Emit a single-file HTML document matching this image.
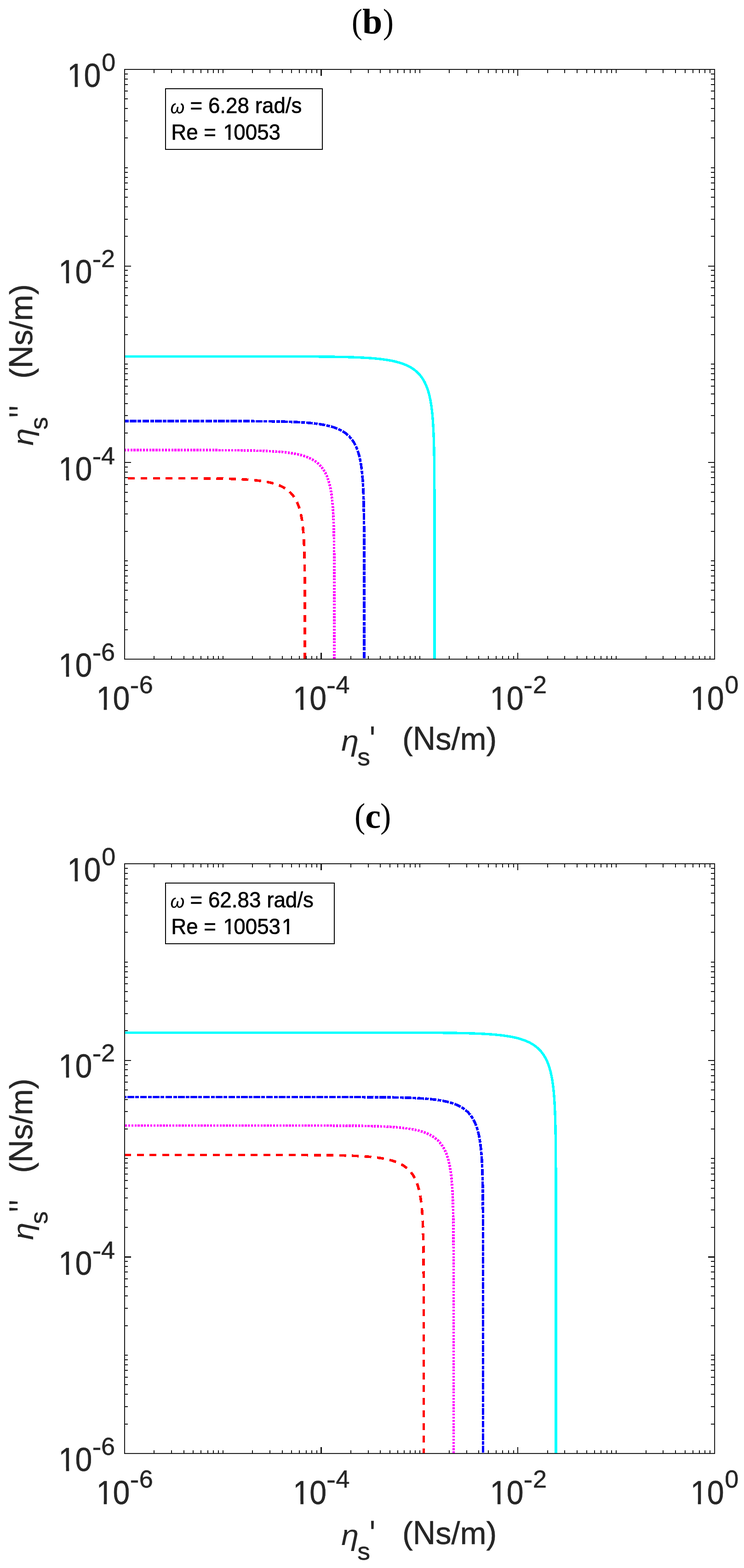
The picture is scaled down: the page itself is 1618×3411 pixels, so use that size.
<!DOCTYPE html>
<html lang="en"><head><meta charset="utf-8"><title>Figure panels (b) and (c)</title>
<style>html,body{margin:0;padding:0;background:#fff}svg{display:block}text{white-space:pre}.t{font-family:"Liberation Sans",sans-serif;fill:#262626;stroke:#262626;stroke-width:.6px;stroke-linejoin:round}.a{font-family:"Liberation Sans",sans-serif;fill:#000;stroke:#000;stroke-width:.7px;stroke-linejoin:round}.h{font-family:"Liberation Serif",serif;fill:#000}.i{font-style:italic;stroke-width:.15px}.c{fill:none;shape-rendering:crispEdges}.m{fill:#fff}</style></head><body>
<svg width="1618" height="3411" viewBox="0 0 1618 3411">
<rect width="1618" height="3411" fill="#fff"/>
<g>
<text class="h" font-size="77"><tspan x="764.82" y="72.4" textLength="23.33" lengthAdjust="spacingAndGlyphs">(</tspan><tspan x="787.89" y="73.3" font-weight="bold" font-size="78">b</tspan><tspan x="832.76" y="72.4" textLength="23.33" lengthAdjust="spacingAndGlyphs">)</tspan></text>
<path class="c" d="M272 775.4L278 775.4L284 775.4L290 775.4L296 775.4L302 775.4L308 775.4L314 775.4L320 775.4L326 775.4L332 775.4L338 775.4L344 775.4L350 775.4L356 775.4L362 775.4L368 775.4L374 775.4L380 775.4L386 775.4L392 775.4L398 775.4L404 775.4L410 775.4L416 775.4L422 775.4L428 775.4L434 775.4L440 775.4L446 775.4L452 775.4L458 775.4L464 775.4L470 775.41L476 775.41L482 775.41L488 775.41L494 775.41L500 775.41L506 775.41L512 775.41L518 775.41L524 775.42L530 775.42L536 775.42L542 775.42L548 775.42L554 775.43L560 775.43L566 775.43L572 775.44L578 775.44L584 775.45L590 775.46L596 775.46L602 775.47L608 775.48L614 775.49L620 775.5L626 775.51L632 775.52L638 775.54L644 775.56L650 775.58L656 775.6L662 775.62L668 775.65L674 775.68L680 775.71L686 775.75L692 775.8L698 775.85L704 775.9L710 775.96L716 776.03L722 776.11L728 776.2L734 776.3L740 776.41L746 776.53L752 776.67L758 776.83L764 777.01L770 777.21L776 777.44L782 777.69L788 777.98L794 778.31L800 778.67L801 778.74L802 778.81L803 778.87L804 778.94L805 779.02L806 779.09L807 779.16L808 779.24L809 779.32L810 779.4L811 779.48L812 779.56L813 779.64L814 779.73L815 779.82L816 779.91L817 780L818 780.09L819 780.19L820 780.29L821 780.39L822 780.49L823 780.59L824 780.7L825 780.81L826 780.92L827 781.03L828 781.15L829 781.27L830 781.39L831 781.51L832 781.64L833 781.77L834 781.9L835 782.03L836 782.17L837 782.31L838 782.46L839 782.6L840 782.75L841 782.91L842 783.07L843 783.23L844 783.39L845 783.56L846 783.73L847 783.91L848 784.09L849 784.27L850 784.46L851 784.65L852 784.85L853 785.05L854 785.26L855 785.47L856 785.69L857 785.91L858 786.14L859 786.37L860 786.61L861 786.85L862 787.1L863 787.36L864 787.62L865 787.89L866 788.17L867 788.45L868 788.74L869 789.03L870 789.34L871 789.65L872 789.97L873 790.3L874 790.64L875 790.98L876 791.34L877 791.7L878 792.08L879 792.46L880 792.85L881 793.26L882 793.68L883 794.1L884 794.55L885 795L886 795.46L887 795.94L888 796.43L889 796.94L890 797.46L891 798L892 798.56L893 799.13L894 799.72L895 800.32L896 800.95L897 801.6L898 802.26L899 802.95L900 803.67L901 804.4L902 805.16L903 805.95L904 806.77L905 807.61L906 808.49L907 809.4L908 810.34L909 811.32L910 812.34L910.95 813.34L911.86 814.34L912.73 815.34L913.58 816.34L914.4 817.34L915.19 818.34L915.95 819.34L916.69 820.34L917.41 821.34L918.1 822.34L918.76 823.34L919.41 824.34L920.04 825.34L920.65 826.34L921.24 827.34L921.81 828.34L922.37 829.34L922.9 830.34L923.43 831.34L923.94 832.34L924.43 833.34L924.91 834.34L925.38 835.34L925.83 836.34L926.27 837.34L926.7 838.34L927.12 839.34L927.52 840.34L927.92 841.34L928.3 842.34L928.68 843.34L929.04 844.34L929.4 845.34L929.74 846.34L930.08 847.34L930.41 848.34L930.73 849.34L931.04 850.34L931.35 851.34L931.65 852.34L931.94 853.34L932.22 854.34L932.49 855.34L932.76 856.34L933.03 857.34L933.28 858.34L933.53 859.34L933.78 860.34L934.02 861.34L934.25 862.34L934.48 863.34L934.7 864.34L934.92 865.34L935.13 866.34L935.34 867.34L935.54 868.34L935.74 869.34L935.93 870.34L936.12 871.34L936.3 872.34L936.48 873.34L936.66 874.34L936.83 875.34L937 876.34L937.17 877.34L937.33 878.34L937.48 879.34L937.64 880.34L937.79 881.34L937.94 882.34L938.08 883.34L938.22 884.34L938.36 885.34L938.5 886.34L938.63 887.34L938.76 888.34L938.88 889.34L939.01 890.34L939.13 891.34L939.25 892.34L939.36 893.34L939.48 894.34L939.59 895.34L939.7 896.34L939.8 897.34L939.91 898.34L940.01 899.34L940.11 900.34L940.21 901.34L940.3 902.34L940.4 903.34L940.49 904.34L940.58 905.34L940.67 906.34L940.75 907.34L940.84 908.34L940.92 909.34L941 910.34L941.08 911.34L941.16 912.34L941.23 913.34L941.31 914.34L941.38 915.34L941.45 916.34L941.52 917.34L941.59 918.34L941.66 919.34L941.72 920.34L941.79 921.34L941.85 922.34L941.91 923.34L941.97 924.34L942.03 925.34L942.09 926.34L942.42 932.34L942.71 938.34L942.96 944.34L943.19 950.34L943.39 956.34L943.57 962.34L943.73 968.34L943.87 974.34L943.99 980.34L944.1 986.34L944.2 992.34L944.29 998.34L944.37 1004.34L944.44 1010.34L944.5 1016.34L944.55 1022.34L944.6 1028.34L944.65 1034.34L944.68 1040.34L944.72 1046.34L944.75 1052.34L944.78 1058.34L944.8 1064.34L944.82 1070.34L944.84 1076.34L944.86 1082.34L944.88 1088.34L944.89 1094.34L944.9 1100.34L944.91 1106.34L944.92 1112.34L944.93 1118.34L944.94 1124.34L944.94 1130.34L944.95 1136.34L944.96 1142.34L944.96 1148.34L944.97 1154.34L944.97 1160.34L944.97 1166.34L944.98 1172.34L944.98 1178.34L944.98 1184.34L944.98 1190.34L944.98 1196.34L944.99 1202.34L944.99 1208.34L944.99 1214.34L944.99 1220.34L944.99 1226.34L944.99 1232.34L944.99 1238.34L944.99 1244.34L944.99 1250.34L945 1256.34L945 1262.34L945 1268.34L945 1274.34L945 1280.34L945 1286.34L945 1292.34L945 1298.34L945 1304.34L945 1310.34L945 1316.34L945 1322.34L945 1328.34L945 1334.34L945 1340.34L945 1346.34L945 1352.34L945 1358.34L945 1364.34L945 1370.34L945 1376.34L945 1382.34L945 1388.34L945 1394.34L945 1400.34L945 1406.34L945 1412.34L945 1418.34L945 1424.34L945 1430.34L945 1432.9" stroke="#00ffff" stroke-width="5.4"/>
<path class="c" d="M272 916L278 916L284 916L290 916L296 916L302 916L308 916L314 916L320 916L326 916L332 916L338 916L344 916L350 916L356 916.01L362 916.01L368 916.01L374 916.01L380 916.01L386 916.01L392 916.01L398 916.01L404 916.01L410 916.02L416 916.02L422 916.02L428 916.02L434 916.03L440 916.03L446 916.03L452 916.04L458 916.04L464 916.05L470 916.06L476 916.06L482 916.07L488 916.08L494 916.09L500 916.1L506 916.12L512 916.13L518 916.15L524 916.17L530 916.19L536 916.22L542 916.25L548 916.28L554 916.32L560 916.37L566 916.41L572 916.47L578 916.53L584 916.61L590 916.69L596 916.78L602 916.89L608 917.01L614 917.15L620 917.3L626 917.48L632 917.68L638 917.91L644 918.17L645 918.22L646 918.27L647 918.32L648 918.37L649 918.42L650 918.47L651 918.53L652 918.58L653 918.64L654 918.7L655 918.76L656 918.82L657 918.88L658 918.94L659 919L660 919.07L661 919.14L662 919.21L663 919.28L664 919.35L665 919.42L666 919.5L667 919.57L668 919.65L669 919.73L670 919.82L671 919.9L672 919.99L673 920.08L674 920.17L675 920.26L676 920.35L677 920.45L678 920.55L679 920.65L680 920.75L681 920.86L682 920.97L683 921.08L684 921.19L685 921.31L686 921.43L687 921.55L688 921.68L689 921.81L690 921.94L691 922.07L692 922.21L693 922.35L694 922.49L695 922.64L696 922.79L697 922.95L698 923.11L699 923.27L700 923.44L701 923.61L702 923.78L703 923.96L704 924.15L705 924.34L706 924.53L707 924.73L708 924.93L709 925.14L710 925.36L711 925.58L712 925.8L713 926.03L714 926.27L715 926.52L716 926.77L717 927.02L718 927.29L719 927.56L720 927.84L721 928.12L722 928.42L723 928.72L724 929.03L725 929.35L726 929.67L727 930.01L728 930.36L729 930.72L730 931.08L731 931.46L732 931.85L733 932.25L734 932.66L735 933.09L736 933.53L737 933.98L738 934.44L739 934.93L740 935.42L741 935.93L742 936.46L743 937.01L744 937.57L745 938.15L746 938.75L747 939.38L748 940.02L749 940.69L750 941.38L751 942.1L752 942.84L753 943.61L754 944.41L755 945.24L756 946.11L757 947.01L758 947.95L759 948.92L760 949.94L760.94 950.94L761.85 951.94L762.72 952.94L763.56 953.94L764.36 954.94L765.14 955.94L765.88 956.94L766.61 957.94L767.3 958.94L767.97 959.94L768.62 960.94L769.25 961.94L769.85 962.94L770.44 963.94L771.01 964.94L771.55 965.94L772.08 966.94L772.6 967.94L773.1 968.94L773.58 969.94L774.05 970.94L774.5 971.94L774.94 972.94L775.37 973.94L775.78 974.94L776.19 975.94L776.58 976.94L776.96 977.94L777.33 978.94L777.69 979.94L778.03 980.94L778.37 981.94L778.7 982.94L779.02 983.94L779.33 984.94L779.64 985.94L779.93 986.94L780.22 987.94L780.5 988.94L780.77 989.94L781.04 990.94L781.29 991.94L781.55 992.94L781.79 993.94L782.03 994.94L782.26 995.94L782.49 996.94L782.71 997.94L782.92 998.94L783.13 999.94L783.34 1000.94L783.54 1001.94L783.73 1002.94L783.92 1003.94L784.11 1004.94L784.29 1005.94L784.46 1006.94L784.64 1007.94L784.8 1008.94L784.97 1009.94L785.13 1010.94L785.28 1011.94L785.43 1012.94L785.58 1013.94L785.73 1014.94L785.87 1015.94L786.01 1016.94L786.14 1017.94L786.27 1018.94L786.4 1019.94L786.53 1020.94L786.65 1021.94L786.77 1022.94L786.89 1023.94L787 1024.94L787.11 1025.94L787.22 1026.94L787.33 1027.94L787.43 1028.94L787.54 1029.94L787.63 1030.94L787.73 1031.94L787.83 1032.94L787.92 1033.94L788.01 1034.94L788.1 1035.94L788.19 1036.94L788.27 1037.94L788.35 1038.94L788.43 1039.94L788.51 1040.94L788.59 1041.94L788.67 1042.94L788.74 1043.94L788.81 1044.94L788.88 1045.94L788.95 1046.94L789.02 1047.94L789.09 1048.94L789.15 1049.94L789.21 1050.94L789.28 1051.94L789.34 1052.94L789.4 1053.94L789.45 1054.94L789.51 1055.94L789.56 1056.94L789.62 1057.94L789.67 1058.94L789.72 1059.94L789.77 1060.94L789.82 1061.94L789.87 1062.94L789.92 1063.94L789.97 1064.94L790.01 1065.94L790.06 1066.94L790.3 1072.94L790.52 1078.94L790.71 1084.94L790.88 1090.94L791.02 1096.94L791.15 1102.94L791.26 1108.94L791.36 1114.94L791.45 1120.94L791.53 1126.94L791.6 1132.94L791.66 1138.94L791.71 1144.94L791.76 1150.94L791.8 1156.94L791.83 1162.94L791.86 1168.94L791.89 1174.94L791.92 1180.94L791.94 1186.94L791.96 1192.94L791.97 1198.94L791.99 1204.94L792 1210.94L792.01 1216.94L792.02 1222.94L792.03 1228.94L792.04 1234.94L792.05 1240.94L792.05 1246.94L792.06 1252.94L792.06 1258.94L792.07 1264.94L792.07 1270.94L792.08 1276.94L792.08 1282.94L792.08 1288.94L792.08 1294.94L792.09 1300.94L792.09 1306.94L792.09 1312.94L792.09 1318.94L792.09 1324.94L792.09 1330.94L792.09 1336.94L792.09 1342.94L792.09 1348.94L792.1 1354.94L792.1 1360.94L792.1 1366.94L792.1 1372.94L792.1 1378.94L792.1 1384.94L792.1 1390.94L792.1 1396.94L792.1 1402.94L792.1 1408.94L792.1 1414.94L792.1 1420.94L792.1 1426.94L792.1 1432.9" stroke="#0000ff" stroke-width="5.6" stroke-dasharray="14.6 2.4 8 2.4" stroke-dashoffset="17.2"/>
<path class="c" d="M272 979.1L278 979.1L284 979.1L290 979.1L296 979.1L302 979.1L308 979.11L314 979.11L320 979.11L326 979.11L332 979.11L338 979.11L344 979.11L350 979.11L356 979.12L362 979.12L368 979.12L374 979.12L380 979.13L386 979.13L392 979.13L398 979.14L404 979.14L410 979.15L416 979.16L422 979.17L428 979.17L434 979.18L440 979.2L446 979.21L452 979.22L458 979.24L464 979.26L470 979.28L476 979.31L482 979.34L488 979.37L494 979.41L500 979.45L506 979.5L512 979.55L518 979.62L524 979.69L530 979.77L536 979.86L542 979.97L548 980.09L554 980.23L560 980.39L566 980.57L572 980.78L578 981.01L579 981.05L580 981.1L581 981.14L582 981.19L583 981.23L584 981.28L585 981.33L586 981.38L587 981.43L588 981.48L589 981.54L590 981.59L591 981.65L592 981.7L593 981.76L594 981.82L595 981.88L596 981.94L597 982.01L598 982.07L599 982.14L600 982.21L601 982.28L602 982.35L603 982.42L604 982.5L605 982.58L606 982.65L607 982.73L608 982.82L609 982.9L610 982.99L611 983.08L612 983.17L613 983.26L614 983.35L615 983.45L616 983.55L617 983.65L618 983.76L619 983.86L620 983.97L621 984.08L622 984.2L623 984.32L624 984.44L625 984.56L626 984.69L627 984.82L628 984.95L629 985.08L630 985.22L631 985.37L632 985.51L633 985.66L634 985.82L635 985.97L636 986.14L637 986.3L638 986.47L639 986.65L640 986.82L641 987.01L642 987.2L643 987.39L644 987.59L645 987.79L646 988L647 988.21L648 988.43L649 988.66L650 988.89L651 989.13L652 989.37L653 989.62L654 989.88L655 990.14L656 990.42L657 990.7L658 990.98L659 991.28L660 991.58L661 991.9L662 992.22L663 992.55L664 992.89L665 993.24L666 993.6L667 993.97L668 994.36L669 994.75L670 995.16L671 995.58L672 996.01L673 996.46L674 996.92L675 997.39L676 997.88L677 998.39L678 998.91L679 999.46L680 1000.01L681 1000.59L682 1001.19L683 1001.81L684 1002.45L685 1003.12L686 1003.81L687 1004.53L688 1005.27L689 1006.04L690 1006.84L691 1007.67L692 1008.54L693 1009.45L694 1010.39L695 1011.37L696 1012.4L696.93 1013.4L697.83 1014.4L698.69 1015.4L699.52 1016.4L700.31 1017.4L701.08 1018.4L701.82 1019.4L702.53 1020.4L703.21 1021.4L703.87 1022.4L704.51 1023.4L705.13 1024.4L705.72 1025.4L706.3 1026.4L706.85 1027.4L707.39 1028.4L707.91 1029.4L708.41 1030.4L708.9 1031.4L709.37 1032.4L709.83 1033.4L710.28 1034.4L710.71 1035.4L711.12 1036.4L711.53 1037.4L711.92 1038.4L712.3 1039.4L712.67 1040.4L713.03 1041.4L713.38 1042.4L713.72 1043.4L714.05 1044.4L714.37 1045.4L714.68 1046.4L714.98 1047.4L715.27 1048.4L715.56 1049.4L715.84 1050.4L716.11 1051.4L716.37 1052.4L716.63 1053.4L716.88 1054.4L717.12 1055.4L717.36 1056.4L717.59 1057.4L717.81 1058.4L718.03 1059.4L718.25 1060.4L718.45 1061.4L718.65 1062.4L718.85 1063.4L719.04 1064.4L719.23 1065.4L719.41 1066.4L719.59 1067.4L719.76 1068.4L719.93 1069.4L720.1 1070.4L720.26 1071.4L720.42 1072.4L720.57 1073.4L720.72 1074.4L720.86 1075.4L721.01 1076.4L721.14 1077.4L721.28 1078.4L721.41 1079.4L721.54 1080.4L721.67 1081.4L721.79 1082.4L721.91 1083.4L722.02 1084.4L722.14 1085.4L722.25 1086.4L722.36 1087.4L722.47 1088.4L722.57 1089.4L722.67 1090.4L722.77 1091.4L722.87 1092.4L722.96 1093.4L723.05 1094.4L723.14 1095.4L723.23 1096.4L723.32 1097.4L723.4 1098.4L723.48 1099.4L723.56 1100.4L723.64 1101.4L723.72 1102.4L723.79 1103.4L723.86 1104.4L723.94 1105.4L724.01 1106.4L724.07 1107.4L724.14 1108.4L724.21 1109.4L724.27 1110.4L724.33 1111.4L724.39 1112.4L724.45 1113.4L724.51 1114.4L724.57 1115.4L724.62 1116.4L724.68 1117.4L724.73 1118.4L724.78 1119.4L724.83 1120.4L724.88 1121.4L724.93 1122.4L724.98 1123.4L725.02 1124.4L725.07 1125.4L725.11 1126.4L725.16 1127.4L725.2 1128.4L725.24 1129.4L725.47 1135.4L725.67 1141.4L725.85 1147.4L726 1153.4L726.13 1159.4L726.25 1165.4L726.36 1171.4L726.45 1177.4L726.53 1183.4L726.6 1189.4L726.66 1195.4L726.71 1201.4L726.76 1207.4L726.8 1213.4L726.84 1219.4L726.87 1225.4L726.9 1231.4L726.92 1237.4L726.94 1243.4L726.96 1249.4L726.98 1255.4L726.99 1261.4L727.01 1267.4L727.02 1273.4L727.03 1279.4L727.04 1285.4L727.04 1291.4L727.05 1297.4L727.06 1303.4L727.06 1309.4L727.07 1315.4L727.07 1321.4L727.07 1327.4L727.08 1333.4L727.08 1339.4L727.08 1345.4L727.08 1351.4L727.09 1357.4L727.09 1363.4L727.09 1369.4L727.09 1375.4L727.09 1381.4L727.09 1387.4L727.09 1393.4L727.09 1399.4L727.1 1405.4L727.1 1411.4L727.1 1417.4L727.1 1423.4L727.1 1429.4L727.1 1432.9" stroke="#ff00ff" stroke-width="5.6" stroke-dasharray="4.3 2.55" stroke-dashoffset="2.2"/>
<path class="c" d="M272 1040.41L278 1040.41L284 1040.41L290 1040.41L296 1040.41L302 1040.42L308 1040.42L314 1040.42L320 1040.42L326 1040.43L332 1040.43L338 1040.43L344 1040.44L350 1040.45L356 1040.45L362 1040.46L368 1040.47L374 1040.48L380 1040.49L386 1040.5L392 1040.51L398 1040.53L404 1040.55L410 1040.57L416 1040.59L422 1040.62L428 1040.65L434 1040.69L440 1040.73L446 1040.78L452 1040.83L458 1040.89L464 1040.96L470 1041.04L476 1041.13L482 1041.24L488 1041.36L494 1041.49L500 1041.65L506 1041.83L512 1042.04L518 1042.28L519 1042.32L520 1042.36L521 1042.41L522 1042.45L523 1042.5L524 1042.55L525 1042.6L526 1042.65L527 1042.7L528 1042.75L529 1042.8L530 1042.86L531 1042.92L532 1042.97L533 1043.03L534 1043.09L535 1043.16L536 1043.22L537 1043.28L538 1043.35L539 1043.42L540 1043.49L541 1043.56L542 1043.63L543 1043.71L544 1043.78L545 1043.86L546 1043.94L547 1044.03L548 1044.11L549 1044.2L550 1044.29L551 1044.38L552 1044.47L553 1044.56L554 1044.66L555 1044.76L556 1044.86L557 1044.97L558 1045.08L559 1045.19L560 1045.3L561 1045.41L562 1045.53L563 1045.65L564 1045.78L565 1045.91L566 1046.04L567 1046.17L568 1046.31L569 1046.45L570 1046.59L571 1046.74L572 1046.89L573 1047.05L574 1047.21L575 1047.38L576 1047.54L577 1047.72L578 1047.89L579 1048.08L580 1048.26L581 1048.46L582 1048.65L583 1048.86L584 1049.06L585 1049.28L586 1049.5L587 1049.72L588 1049.95L589 1050.19L590 1050.44L591 1050.69L592 1050.95L593 1051.21L594 1051.49L595 1051.77L596 1052.06L597 1052.35L598 1052.66L599 1052.98L600 1053.3L601 1053.63L602 1053.98L603 1054.33L604 1054.7L605 1055.08L606 1055.46L607 1055.87L608 1056.28L609 1056.71L610 1057.15L611 1057.6L612 1058.07L613 1058.55L614 1059.06L615 1059.57L616 1060.11L617 1060.66L618 1061.24L619 1061.83L620 1062.45L621 1063.09L622 1063.75L623 1064.44L624 1065.15L625 1065.89L626 1066.66L627 1067.46L628 1068.29L629 1069.16L630 1070.07L631 1071.01L632 1072L633 1073.03L633.93 1074.03L634.82 1075.03L635.67 1076.03L636.49 1077.03L637.28 1078.03L638.04 1079.03L638.76 1080.03L639.47 1081.03L640.14 1082.03L640.79 1083.03L641.42 1084.03L642.03 1085.03L642.61 1086.03L643.18 1087.03L643.73 1088.03L644.25 1089.03L644.76 1090.03L645.26 1091.03L645.74 1092.03L646.2 1093.03L646.65 1094.03L647.08 1095.03L647.5 1096.03L647.91 1097.03L648.31 1098.03L648.69 1099.03L649.06 1100.03L649.42 1101.03L649.77 1102.03L650.11 1103.03L650.44 1104.03L650.76 1105.03L651.07 1106.03L651.38 1107.03L651.67 1108.03L651.96 1109.03L652.23 1110.03L652.5 1111.03L652.77 1112.03L653.02 1113.03L653.27 1114.03L653.51 1115.03L653.75 1116.03L653.98 1117.03L654.2 1118.03L654.42 1119.03L654.63 1120.03L654.83 1121.03L655.03 1122.03L655.23 1123.03L655.42 1124.03L655.6 1125.03L655.78 1126.03L655.96 1127.03L656.13 1128.03L656.3 1129.03L656.46 1130.03L656.62 1131.03L656.77 1132.03L656.92 1133.03L657.07 1134.03L657.21 1135.03L657.35 1136.03L657.49 1137.03L657.62 1138.03L657.75 1139.03L657.88 1140.03L658 1141.03L658.12 1142.03L658.24 1143.03L658.35 1144.03L658.46 1145.03L658.57 1146.03L658.68 1147.03L658.78 1148.03L658.88 1149.03L658.98 1150.03L659.08 1151.03L659.17 1152.03L659.26 1153.03L659.35 1154.03L659.44 1155.03L659.53 1156.03L659.61 1157.03L659.69 1158.03L659.77 1159.03L659.85 1160.03L659.93 1161.03L660 1162.03L660.07 1163.03L660.14 1164.03L660.21 1165.03L660.28 1166.03L660.34 1167.03L660.41 1168.03L660.47 1169.03L660.53 1170.03L660.59 1171.03L660.65 1172.03L660.71 1173.03L660.76 1174.03L660.82 1175.03L660.87 1176.03L660.92 1177.03L660.98 1178.03L661.03 1179.03L661.07 1180.03L661.12 1181.03L661.17 1182.03L661.21 1183.03L661.26 1184.03L661.3 1185.03L661.34 1186.03L661.38 1187.03L661.43 1188.03L661.46 1189.03L661.5 1190.03L661.54 1191.03L661.75 1197.03L661.93 1203.03L662.09 1209.03L662.23 1215.03L662.35 1221.03L662.46 1227.03L662.55 1233.03L662.63 1239.03L662.7 1245.03L662.76 1251.03L662.82 1257.03L662.87 1263.03L662.91 1269.03L662.94 1275.03L662.98 1281.03L663 1287.03L663.03 1293.03L663.05 1299.03L663.07 1305.03L663.08 1311.03L663.1 1317.03L663.11 1323.03L663.12 1329.03L663.13 1335.03L663.14 1341.03L663.15 1347.03L663.15 1353.03L663.16 1359.03L663.17 1365.03L663.17 1371.03L663.17 1377.03L663.18 1383.03L663.18 1389.03L663.18 1395.03L663.18 1401.03L663.19 1407.03L663.19 1413.03L663.19 1419.03L663.19 1425.03L663.19 1431.03L663.19 1432.9" stroke="#ff0000" stroke-width="5.6" stroke-dasharray="15 12.5" stroke-dashoffset="21.5"/>
<rect x="271" y="151" width="1283.1" height="1282.9" fill="none" stroke="#141414" stroke-width="2"/>
<path class="c" d="M335 1433.9v-6.9M335 151v7.9M271 1370h6.9M1554.1 1370h-7.9M373 1433.9v-6.9M373 151v7.9M271 1332h6.9M1554.1 1332h-7.9M400 1433.9v-6.9M400 151v7.9M271 1305h6.9M1554.1 1305h-7.9M420 1433.9v-6.9M420 151v7.9M271 1284h6.9M1554.1 1284h-7.9M437 1433.9v-6.9M437 151v7.9M271 1268h6.9M1554.1 1268h-7.9M452 1433.9v-6.9M452 151v7.9M271 1253h6.9M1554.1 1253h-7.9M464 1433.9v-6.9M464 151v7.9M271 1241h6.9M1554.1 1241h-7.9M475 1433.9v-6.9M475 151v7.9M271 1230h6.9M1554.1 1230h-7.9M485 1433.9v-6.9M485 151v7.9M271 1220h6.9M1554.1 1220h-7.9M549 1433.9v-6.9M549 151v7.9M271 1156h6.9M1554.1 1156h-7.9M587 1433.9v-6.9M587 151v7.9M271 1118h6.9M1554.1 1118h-7.9M614 1433.9v-6.9M614 151v7.9M271 1091h6.9M1554.1 1091h-7.9M634 1433.9v-6.9M634 151v7.9M271 1071h6.9M1554.1 1071h-7.9M651 1433.9v-6.9M651 151v7.9M271 1054h6.9M1554.1 1054h-7.9M666 1433.9v-6.9M666 151v7.9M271 1039h6.9M1554.1 1039h-7.9M678 1433.9v-6.9M678 151v7.9M271 1027h6.9M1554.1 1027h-7.9M689 1433.9v-6.9M689 151v7.9M271 1016h6.9M1554.1 1016h-7.9M271 1006h13.9M1554.1 1006h-13.9M763 1433.9v-6.9M763 151v7.9M271 942h6.9M1554.1 942h-7.9M801 1433.9v-6.9M801 151v7.9M271 904h6.9M1554.1 904h-7.9M827 1433.9v-6.9M827 151v7.9M271 878h6.9M1554.1 878h-7.9M848 1433.9v-6.9M848 151v7.9M271 857h6.9M1554.1 857h-7.9M865 1433.9v-6.9M865 151v7.9M271 840h6.9M1554.1 840h-7.9M879 1433.9v-6.9M879 151v7.9M271 826h6.9M1554.1 826h-7.9M892 1433.9v-6.9M892 151v7.9M271 813h6.9M1554.1 813h-7.9M903 1433.9v-6.9M903 151v7.9M271 802h6.9M1554.1 802h-7.9M913 1433.9v-6.9M913 151v7.9M271 792h6.9M1554.1 792h-7.9M977 1433.9v-6.9M977 151v7.9M271 728h6.9M1554.1 728h-7.9M1015 1433.9v-6.9M1015 151v7.9M271 690h6.9M1554.1 690h-7.9M1041 1433.9v-6.9M1041 151v7.9M271 664h6.9M1554.1 664h-7.9M1062 1433.9v-6.9M1062 151v7.9M271 643h6.9M1554.1 643h-7.9M1079 1433.9v-6.9M1079 151v7.9M271 626h6.9M1554.1 626h-7.9M1093 1433.9v-6.9M1093 151v7.9M271 612h6.9M1554.1 612h-7.9M1106 1433.9v-6.9M1106 151v7.9M271 599h6.9M1554.1 599h-7.9M1117 1433.9v-6.9M1117 151v7.9M271 588h6.9M1554.1 588h-7.9M1126 1433.9v-13.9M1126 151v13.9M271 579h13.9M1554.1 579h-13.9M1191 1433.9v-6.9M1191 151v7.9M271 514h6.9M1554.1 514h-7.9M1228 1433.9v-6.9M1228 151v7.9M271 477h6.9M1554.1 477h-7.9M1255 1433.9v-6.9M1255 151v7.9M271 450h6.9M1554.1 450h-7.9M1276 1433.9v-6.9M1276 151v7.9M271 429h6.9M1554.1 429h-7.9M1293 1433.9v-6.9M1293 151v7.9M271 412h6.9M1554.1 412h-7.9M1307 1433.9v-6.9M1307 151v7.9M271 398h6.9M1554.1 398h-7.9M1320 1433.9v-6.9M1320 151v7.9M271 386h6.9M1554.1 386h-7.9M1330 1433.9v-6.9M1330 151v7.9M271 375h6.9M1554.1 375h-7.9M1340 1433.9v-6.9M1340 151v7.9M271 365h6.9M1554.1 365h-7.9M1405 1433.9v-6.9M1405 151v7.9M271 300h6.9M1554.1 300h-7.9M1442 1433.9v-6.9M1442 151v7.9M271 263h6.9M1554.1 263h-7.9M1469 1433.9v-6.9M1469 151v7.9M271 236h6.9M1554.1 236h-7.9M1490 1433.9v-6.9M1490 151v7.9M271 215h6.9M1554.1 215h-7.9M1507 1433.9v-6.9M1507 151v7.9M271 198h6.9M1554.1 198h-7.9M1521 1433.9v-6.9M1521 151v7.9M271 184h6.9M1554.1 184h-7.9M1533 1433.9v-6.9M1533 151v7.9M271 172h6.9M1554.1 172h-7.9M1544 1433.9v-6.9M1544 151v7.9M271 161h6.9M1554.1 161h-7.9" stroke="#141414" stroke-width="2"/>
<path class="c" d="M698.5 1433.9v-13.9M698.5 151v13.9" stroke="#141414" stroke-width="3"/>
<text class="t" transform="translate(146.25 189) scale(0.9273 1)" font-size="71.5" x="0 39.06 80.9">10<tspan font-size="54" dy="-34.7" textLength="32.38" lengthAdjust="spacingAndGlyphs">0</tspan></text>
<text class="t" transform="translate(127.35 616) scale(0.9273 1)" font-size="71.5" x="0 39.06 78.91 100.04">10<tspan font-size="54" dy="-33.67" textLength="21.53" lengthAdjust="spacingAndGlyphs">-</tspan><tspan font-size="54" dy="-1.1" textLength="32.38" lengthAdjust="spacingAndGlyphs">2</tspan></text>
<text class="t" transform="translate(127.35 1045) scale(0.9273 1)" font-size="71.5" x="0 39.06 78.91 100.04">10<tspan font-size="54" dy="-33.63" textLength="21.53" lengthAdjust="spacingAndGlyphs">-</tspan><tspan font-size="54" dy="-1.1" textLength="32.38" lengthAdjust="spacingAndGlyphs">4</tspan></text>
<text class="t" transform="translate(127.35 1472) scale(0.9273 1)" font-size="71.5" x="0 39.06 78.91 100.04">10<tspan font-size="54" dy="-34.4" textLength="21.53" lengthAdjust="spacingAndGlyphs">-</tspan><tspan font-size="54" dy="-1.1" textLength="32.38" lengthAdjust="spacingAndGlyphs">6</tspan></text>
<text class="t" transform="translate(69.9 970) rotate(-90)" font-size="68.5"><tspan class="i" font-size="63" x="0.64" y="2" textLength="37.96" lengthAdjust="spacingAndGlyphs">η</tspan><tspan font-size="54.5" x="35.15" y="33.2" textLength="27.75" lengthAdjust="spacingAndGlyphs">s</tspan><tspan font-size="80" x="61.52" y="5.9" textLength="11.92" lengthAdjust="spacingAndGlyphs">'</tspan><tspan font-size="80" x="75.72" y="5.9" textLength="11.92" lengthAdjust="spacingAndGlyphs">'</tspan><tspan>  </tspan><tspan x="146.3" y="0">(<tspan font-size="72.2" textLength="49.46" lengthAdjust="spacingAndGlyphs">N</tspan>s/m)</tspan></text>
<text class="t" transform="translate(209.4 1544.2) scale(0.9273 1)" font-size="71.5" x="0 39.06 78.75 100.74">10<tspan font-size="54" dy="-34.75" textLength="21.53" lengthAdjust="spacingAndGlyphs">-</tspan><tspan font-size="54" dy="-1.1" textLength="32.38" lengthAdjust="spacingAndGlyphs">6</tspan></text>
<text class="t" transform="translate(637.1 1544.2) scale(0.9273 1)" font-size="71.5" x="0 39.06 78.75 100.74">10<tspan font-size="54" dy="-34.75" textLength="21.53" lengthAdjust="spacingAndGlyphs">-</tspan><tspan font-size="54" dy="-1.1" textLength="32.38" lengthAdjust="spacingAndGlyphs">4</tspan></text>
<text class="t" transform="translate(1065.6 1544.2) scale(0.9273 1)" font-size="71.5" x="0 39.06 78.75 100.74">10<tspan font-size="54" dy="-34.75" textLength="21.53" lengthAdjust="spacingAndGlyphs">-</tspan><tspan font-size="54" dy="-1.1" textLength="32.38" lengthAdjust="spacingAndGlyphs">2</tspan></text>
<text class="t" transform="translate(1501.45 1544.2) scale(0.9273 1)" font-size="71.5" x="0 39.06 80.79">10<tspan font-size="54" dy="-35.85" textLength="32.38" lengthAdjust="spacingAndGlyphs">0</tspan></text>
<text class="t" transform="translate(0 1630.9)" font-size="68.5"><tspan class="i" font-size="63" x="742.34" y="2" textLength="37.96" lengthAdjust="spacingAndGlyphs">η</tspan><tspan font-size="54.5" x="777.35" y="34.25" textLength="27.75" lengthAdjust="spacingAndGlyphs">s</tspan><tspan font-size="80" x="804.02" y="4.9" textLength="11.92" lengthAdjust="spacingAndGlyphs">'</tspan><tspan>  </tspan><tspan x="874.95" y="0">(<tspan font-size="72.2" textLength="49.46" lengthAdjust="spacingAndGlyphs">N</tspan>s/m)</tspan></text>
<rect class="c" x="360" y="193" width="341" height="132" style="fill:#fff" stroke="#000" stroke-width="2"/>
<text class="a" transform="translate(400.74 245.65) scale(0.9697 1)" font-size="47.2" x="-31.18 0 13.12 40.69 53.81 80.05 93.17 119.42 145.66 158.78 174.5 200.74 226.98 240.11"><tspan class="i" font-size="40.3" dy="1.05" textLength="31.82" lengthAdjust="spacingAndGlyphs">ω</tspan><tspan dy="-1.05"> = 6.28 rad/s</tspan></text>
<text class="a" transform="translate(372.15 303.8) scale(0.9697 1)" font-size="47.2" x="0 34.08 60.32 73.44 101.01 116.86 140.37 166.62 192.86 219.1">Re = 10053</text>
<g class="m"><rect x="149.45" y="182.11" width="13.12" height="8.24"/><rect x="169.13" y="182.11" width="12.61" height="8.24"/><rect x="130.55" y="609.11" width="13.12" height="8.24"/><rect x="150.23" y="609.11" width="12.61" height="8.24"/><rect x="130.55" y="1038.11" width="13.12" height="8.24"/><rect x="150.23" y="1038.11" width="12.61" height="8.24"/><rect x="130.55" y="1465.11" width="13.12" height="8.24"/><rect x="150.23" y="1465.11" width="12.61" height="8.24"/><rect x="212.6" y="1537.31" width="13.12" height="8.24"/><rect x="232.28" y="1537.31" width="12.61" height="8.24"/><rect x="640.3" y="1537.31" width="13.12" height="8.24"/><rect x="659.98" y="1537.31" width="12.61" height="8.24"/><rect x="1068.8" y="1537.31" width="13.12" height="8.24"/><rect x="1088.48" y="1537.31" width="12.61" height="8.24"/><rect x="1504.65" y="1537.31" width="13.12" height="8.24"/><rect x="1524.33" y="1537.31" width="12.61" height="8.24"/><rect x="487.06" y="298.67" width="9.52" height="6.53"/><rect x="501.42" y="298.67" width="9.17" height="6.53"/></g>
</g>
<g>
<text class="h" font-size="77"><tspan x="770.92" y="1800.4" textLength="23.33" lengthAdjust="spacingAndGlyphs">(</tspan><tspan x="794.32" y="1801.3" font-weight="bold" font-size="76">c</tspan><tspan x="827.06" y="1800.4" textLength="23.33" lengthAdjust="spacingAndGlyphs">)</tspan></text>
<path class="c" d="M272 2246.3L278 2246.3L284 2246.3L290 2246.3L296 2246.3L302 2246.3L308 2246.3L314 2246.3L320 2246.3L326 2246.3L332 2246.3L338 2246.3L344 2246.3L350 2246.3L356 2246.3L362 2246.3L368 2246.3L374 2246.3L380 2246.3L386 2246.3L392 2246.3L398 2246.3L404 2246.3L410 2246.3L416 2246.3L422 2246.3L428 2246.3L434 2246.3L440 2246.3L446 2246.3L452 2246.3L458 2246.3L464 2246.3L470 2246.3L476 2246.3L482 2246.3L488 2246.3L494 2246.3L500 2246.3L506 2246.3L512 2246.3L518 2246.3L524 2246.3L530 2246.3L536 2246.3L542 2246.3L548 2246.3L554 2246.3L560 2246.3L566 2246.3L572 2246.3L578 2246.3L584 2246.3L590 2246.3L596 2246.3L602 2246.3L608 2246.3L614 2246.3L620 2246.3L626 2246.3L632 2246.3L638 2246.3L644 2246.3L650 2246.3L656 2246.3L662 2246.3L668 2246.3L674 2246.3L680 2246.3L686 2246.3L692 2246.3L698 2246.3L704 2246.3L710 2246.3L716 2246.3L722 2246.31L728 2246.31L734 2246.31L740 2246.31L746 2246.31L752 2246.31L758 2246.31L764 2246.31L770 2246.31L776 2246.31L782 2246.32L788 2246.32L794 2246.32L800 2246.32L806 2246.33L812 2246.33L818 2246.33L824 2246.34L830 2246.34L836 2246.34L842 2246.35L848 2246.36L854 2246.36L860 2246.37L866 2246.38L872 2246.39L878 2246.4L884 2246.41L890 2246.43L896 2246.44L902 2246.46L908 2246.48L914 2246.5L920 2246.52L926 2246.55L932 2246.58L938 2246.61L944 2246.65L950 2246.69L956 2246.74L962 2246.79L968 2246.85L974 2246.92L980 2246.99L986 2247.08L992 2247.17L998 2247.28L1004 2247.4L1010 2247.53L1016 2247.68L1022 2247.85L1028 2248.04L1034 2248.25L1040 2248.49L1046 2248.76L1052 2249.06L1058 2249.41L1064 2249.79L1065 2249.86L1066 2249.93L1067 2250.01L1068 2250.08L1069 2250.15L1070 2250.23L1071 2250.31L1072 2250.39L1073 2250.47L1074 2250.55L1075 2250.64L1076 2250.72L1077 2250.81L1078 2250.9L1079 2250.99L1080 2251.09L1081 2251.18L1082 2251.28L1083 2251.38L1084 2251.48L1085 2251.59L1086 2251.7L1087 2251.8L1088 2251.92L1089 2252.03L1090 2252.14L1091 2252.26L1092 2252.38L1093 2252.51L1094 2252.63L1095 2252.76L1096 2252.89L1097 2253.03L1098 2253.17L1099 2253.31L1100 2253.45L1101 2253.6L1102 2253.75L1103 2253.9L1104 2254.06L1105 2254.22L1106 2254.38L1107 2254.55L1108 2254.72L1109 2254.89L1110 2255.07L1111 2255.26L1112 2255.44L1113 2255.63L1114 2255.83L1115 2256.03L1116 2256.23L1117 2256.44L1118 2256.66L1119 2256.88L1120 2257.1L1121 2257.33L1122 2257.57L1123 2257.81L1124 2258.06L1125 2258.31L1126 2258.57L1127 2258.83L1128 2259.1L1129 2259.38L1130 2259.67L1131 2259.96L1132 2260.26L1133 2260.56L1134 2260.88L1135 2261.2L1136 2261.53L1137 2261.87L1138 2262.22L1139 2262.57L1140 2262.94L1141 2263.31L1142 2263.7L1143 2264.1L1144 2264.5L1145 2264.92L1146 2265.35L1147 2265.79L1148 2266.24L1149 2266.71L1150 2267.19L1151 2267.68L1152 2268.19L1153 2268.71L1154 2269.24L1155 2269.8L1156 2270.37L1157 2270.95L1158 2271.56L1159 2272.18L1160 2272.82L1161 2273.49L1162 2274.17L1163 2274.88L1164 2275.61L1165 2276.37L1166 2277.15L1167 2277.95L1168 2278.79L1169 2279.66L1170 2280.55L1171 2281.49L1172 2282.45L1173 2283.45L1173.96 2284.45L1174.89 2285.45L1175.78 2286.45L1176.64 2287.45L1177.47 2288.45L1178.28 2289.45L1179.05 2290.45L1179.8 2291.45L1180.53 2292.45L1181.24 2293.45L1181.92 2294.45L1182.58 2295.45L1183.22 2296.45L1183.84 2297.45L1184.44 2298.45L1185.02 2299.45L1185.59 2300.45L1186.14 2301.45L1186.68 2302.45L1187.19 2303.45L1187.7 2304.45L1188.19 2305.45L1188.67 2306.45L1189.13 2307.45L1189.58 2308.45L1190.02 2309.45L1190.45 2310.45L1190.86 2311.45L1191.27 2312.45L1191.66 2313.45L1192.05 2314.45L1192.42 2315.45L1192.78 2316.45L1193.14 2317.45L1193.49 2318.45L1193.82 2319.45L1194.15 2320.45L1194.47 2321.45L1194.79 2322.45L1195.09 2323.45L1195.39 2324.45L1195.68 2325.45L1195.96 2326.45L1196.24 2327.45L1196.51 2328.45L1196.78 2329.45L1197.03 2330.45L1197.28 2331.45L1197.53 2332.45L1197.77 2333.45L1198 2334.45L1198.23 2335.45L1198.46 2336.45L1198.68 2337.45L1198.89 2338.45L1199.1 2339.45L1199.3 2340.45L1199.5 2341.45L1199.7 2342.45L1199.89 2343.45L1200.07 2344.45L1200.26 2345.45L1200.43 2346.45L1200.61 2347.45L1200.78 2348.45L1200.95 2349.45L1201.11 2350.45L1201.27 2351.45L1201.42 2352.45L1201.58 2353.45L1201.73 2354.45L1201.87 2355.45L1202.02 2356.45L1202.16 2357.45L1202.29 2358.45L1202.43 2359.45L1202.56 2360.45L1202.69 2361.45L1202.81 2362.45L1202.94 2363.45L1203.06 2364.45L1203.17 2365.45L1203.29 2366.45L1203.4 2367.45L1203.51 2368.45L1203.62 2369.45L1203.73 2370.45L1203.83 2371.45L1203.93 2372.45L1204.03 2373.45L1204.13 2374.45L1204.23 2375.45L1204.32 2376.45L1204.41 2377.45L1204.5 2378.45L1204.59 2379.45L1204.68 2380.45L1204.76 2381.45L1204.84 2382.45L1204.93 2383.45L1205 2384.45L1205.08 2385.45L1205.16 2386.45L1205.23 2387.45L1205.31 2388.45L1205.38 2389.45L1205.45 2390.45L1205.52 2391.45L1205.59 2392.45L1205.65 2393.45L1205.72 2394.45L1205.78 2395.45L1205.84 2396.45L1206.19 2402.45L1206.5 2408.45L1206.77 2414.45L1207.02 2420.45L1207.24 2426.45L1207.43 2432.45L1207.6 2438.45L1207.75 2444.45L1207.89 2450.45L1208.01 2456.45L1208.12 2462.45L1208.21 2468.45L1208.3 2474.45L1208.37 2480.45L1208.44 2486.45L1208.5 2492.45L1208.55 2498.45L1208.6 2504.45L1208.65 2510.45L1208.68 2516.45L1208.72 2522.45L1208.75 2528.45L1208.78 2534.45L1208.8 2540.45L1208.82 2546.45L1208.84 2552.45L1208.86 2558.45L1208.87 2564.45L1208.89 2570.45L1208.9 2576.45L1208.91 2582.45L1208.92 2588.45L1208.93 2594.45L1208.94 2600.45L1208.94 2606.45L1208.95 2612.45L1208.95 2618.45L1208.96 2624.45L1208.96 2630.45L1208.97 2636.45L1208.97 2642.45L1208.97 2648.45L1208.98 2654.45L1208.98 2660.45L1208.98 2666.45L1208.98 2672.45L1208.99 2678.45L1208.99 2684.45L1208.99 2690.45L1208.99 2696.45L1208.99 2702.45L1208.99 2708.45L1208.99 2714.45L1208.99 2720.45L1208.99 2726.45L1208.99 2732.45L1209 2738.45L1209 2744.45L1209 2750.45L1209 2756.45L1209 2762.45L1209 2768.45L1209 2774.45L1209 2780.45L1209 2786.45L1209 2792.45L1209 2798.45L1209 2804.45L1209 2810.45L1209 2816.45L1209 2822.45L1209 2828.45L1209 2834.45L1209 2840.45L1209 2846.45L1209 2852.45L1209 2858.45L1209 2864.45L1209 2870.45L1209 2876.45L1209 2882.45L1209 2888.45L1209 2894.45L1209 2900.45L1209 2906.45L1209 2912.45L1209 2918.45L1209 2924.45L1209 2930.45L1209 2936.45L1209 2942.45L1209 2948.45L1209 2954.45L1209 2960.45L1209 2966.45L1209 2972.45L1209 2978.45L1209 2984.45L1209 2990.45L1209 2996.45L1209 3002.45L1209 3008.45L1209 3014.45L1209 3020.45L1209 3026.45L1209 3032.45L1209 3038.45L1209 3044.45L1209 3050.45L1209 3056.45L1209 3062.45L1209 3068.45L1209 3074.45L1209 3080.45L1209 3086.45L1209 3092.45L1209 3098.45L1209 3104.45L1209 3110.45L1209 3116.45L1209 3122.45L1209 3128.45L1209 3134.45L1209 3140.45L1209 3146.45L1209 3152.45L1209 3158.45L1209 3160.9" stroke="#00ffff" stroke-width="5.4"/>
<path class="c" d="M272 2386.5L278 2386.5L284 2386.5L290 2386.5L296 2386.5L302 2386.5L308 2386.5L314 2386.5L320 2386.5L326 2386.5L332 2386.5L338 2386.5L344 2386.5L350 2386.5L356 2386.5L362 2386.5L368 2386.5L374 2386.5L380 2386.5L386 2386.5L392 2386.5L398 2386.5L404 2386.5L410 2386.5L416 2386.5L422 2386.5L428 2386.5L434 2386.5L440 2386.5L446 2386.5L452 2386.5L458 2386.5L464 2386.5L470 2386.5L476 2386.5L482 2386.5L488 2386.5L494 2386.5L500 2386.5L506 2386.5L512 2386.5L518 2386.5L524 2386.5L530 2386.5L536 2386.5L542 2386.5L548 2386.5L554 2386.5L560 2386.5L566 2386.5L572 2386.5L578 2386.5L584 2386.5L590 2386.5L596 2386.5L602 2386.5L608 2386.5L614 2386.5L620 2386.51L626 2386.51L632 2386.51L638 2386.51L644 2386.51L650 2386.51L656 2386.51L662 2386.51L668 2386.52L674 2386.52L680 2386.52L686 2386.52L692 2386.53L698 2386.53L704 2386.53L710 2386.54L716 2386.54L722 2386.55L728 2386.55L734 2386.56L740 2386.57L746 2386.58L752 2386.59L758 2386.6L764 2386.62L770 2386.63L776 2386.65L782 2386.67L788 2386.69L794 2386.72L800 2386.75L806 2386.78L812 2386.82L818 2386.86L824 2386.91L830 2386.97L836 2387.03L842 2387.1L848 2387.18L854 2387.27L860 2387.38L866 2387.5L872 2387.63L878 2387.79L884 2387.96L890 2388.16L896 2388.39L902 2388.65L903 2388.7L904 2388.74L905 2388.79L906 2388.84L907 2388.89L908 2388.95L909 2389L910 2389.05L911 2389.11L912 2389.17L913 2389.23L914 2389.29L915 2389.35L916 2389.41L917 2389.47L918 2389.54L919 2389.6L920 2389.67L921 2389.74L922 2389.81L923 2389.89L924 2389.96L925 2390.04L926 2390.11L927 2390.19L928 2390.28L929 2390.36L930 2390.44L931 2390.53L932 2390.62L933 2390.71L934 2390.81L935 2390.9L936 2391L937 2391.1L938 2391.2L939 2391.31L940 2391.41L941 2391.52L942 2391.64L943 2391.75L944 2391.87L945 2391.99L946 2392.11L947 2392.24L948 2392.37L949 2392.5L950 2392.64L951 2392.78L952 2392.92L953 2393.07L954 2393.22L955 2393.37L956 2393.53L957 2393.69L958 2393.85L959 2394.02L960 2394.2L961 2394.37L962 2394.56L963 2394.74L964 2394.93L965 2395.13L966 2395.33L967 2395.54L968 2395.75L969 2395.97L970 2396.19L971 2396.42L972 2396.65L973 2396.89L974 2397.14L975 2397.39L976 2397.65L977 2397.92L978 2398.2L979 2398.48L980 2398.77L981 2399.07L982 2399.37L983 2399.69L984 2400.01L985 2400.34L986 2400.68L987 2401.04L988 2401.4L989 2401.77L990 2402.15L991 2402.55L992 2402.96L993 2403.37L994 2403.81L995 2404.25L996 2404.71L997 2405.18L998 2405.67L999 2406.17L1000 2406.69L1001 2407.23L1002 2407.79L1003 2408.36L1004 2408.95L1005 2409.56L1006 2410.2L1007 2410.85L1008 2411.53L1009 2412.24L1010 2412.97L1011 2413.72L1012 2414.51L1013 2415.32L1014 2416.17L1015 2417.05L1016 2417.97L1017 2418.93L1018 2419.92L1019 2420.96L1019.92 2421.96L1020.81 2422.96L1021.66 2423.96L1022.48 2424.96L1023.27 2425.96L1024.03 2426.96L1024.77 2427.96L1025.47 2428.96L1026.16 2429.96L1026.82 2430.96L1027.45 2431.96L1028.07 2432.96L1028.66 2433.96L1029.24 2434.96L1029.8 2435.96L1030.33 2436.96L1030.86 2437.96L1031.36 2438.96L1031.85 2439.96L1032.33 2440.96L1032.79 2441.96L1033.23 2442.96L1033.67 2443.96L1034.09 2444.96L1034.5 2445.96L1034.89 2446.96L1035.28 2447.96L1035.65 2448.96L1036.02 2449.96L1036.37 2450.96L1036.71 2451.96L1037.05 2452.96L1037.37 2453.96L1037.69 2454.96L1037.99 2455.96L1038.29 2456.96L1038.58 2457.96L1038.87 2458.96L1039.14 2459.96L1039.41 2460.96L1039.67 2461.96L1039.93 2462.96L1040.18 2463.96L1040.42 2464.96L1040.65 2465.96L1040.88 2466.96L1041.11 2467.96L1041.32 2468.96L1041.54 2469.96L1041.74 2470.96L1041.94 2471.96L1042.14 2472.96L1042.33 2473.96L1042.52 2474.96L1042.7 2475.96L1042.88 2476.96L1043.06 2477.96L1043.22 2478.96L1043.39 2479.96L1043.55 2480.96L1043.71 2481.96L1043.86 2482.96L1044.01 2483.96L1044.16 2484.96L1044.3 2485.96L1044.44 2486.96L1044.58 2487.96L1044.71 2488.96L1044.84 2489.96L1044.97 2490.96L1045.09 2491.96L1045.21 2492.96L1045.33 2493.96L1045.45 2494.96L1045.56 2495.96L1045.67 2496.96L1045.78 2497.96L1045.88 2498.96L1045.99 2499.96L1046.09 2500.96L1046.19 2501.96L1046.28 2502.96L1046.38 2503.96L1046.47 2504.96L1046.56 2505.96L1046.65 2506.96L1046.73 2507.96L1046.81 2508.96L1046.9 2509.96L1046.98 2510.96L1047.05 2511.96L1047.13 2512.96L1047.21 2513.96L1047.28 2514.96L1047.35 2515.96L1047.42 2516.96L1047.49 2517.96L1047.55 2518.96L1047.62 2519.96L1047.68 2520.96L1047.75 2521.96L1047.81 2522.96L1047.87 2523.96L1047.93 2524.96L1047.98 2525.96L1048.04 2526.96L1048.09 2527.96L1048.15 2528.96L1048.2 2529.96L1048.25 2530.96L1048.3 2531.96L1048.35 2532.96L1048.4 2533.96L1048.44 2534.96L1048.49 2535.96L1048.53 2536.96L1048.78 2542.96L1049 2548.96L1049.19 2554.96L1049.36 2560.96L1049.51 2566.96L1049.64 2572.96L1049.76 2578.96L1049.86 2584.96L1049.95 2590.96L1050.02 2596.96L1050.09 2602.96L1050.15 2608.96L1050.21 2614.96L1050.25 2620.96L1050.29 2626.96L1050.33 2632.96L1050.36 2638.96L1050.39 2644.96L1050.42 2650.96L1050.44 2656.96L1050.46 2662.96L1050.47 2668.96L1050.49 2674.96L1050.5 2680.96L1050.51 2686.96L1050.52 2692.96L1050.53 2698.96L1050.54 2704.96L1050.55 2710.96L1050.55 2716.96L1050.56 2722.96L1050.56 2728.96L1050.57 2734.96L1050.57 2740.96L1050.58 2746.96L1050.58 2752.96L1050.58 2758.96L1050.58 2764.96L1050.59 2770.96L1050.59 2776.96L1050.59 2782.96L1050.59 2788.96L1050.59 2794.96L1050.59 2800.96L1050.59 2806.96L1050.59 2812.96L1050.59 2818.96L1050.6 2824.96L1050.6 2830.96L1050.6 2836.96L1050.6 2842.96L1050.6 2848.96L1050.6 2854.96L1050.6 2860.96L1050.6 2866.96L1050.6 2872.96L1050.6 2878.96L1050.6 2884.96L1050.6 2890.96L1050.6 2896.96L1050.6 2902.96L1050.6 2908.96L1050.6 2914.96L1050.6 2920.96L1050.6 2926.96L1050.6 2932.96L1050.6 2938.96L1050.6 2944.96L1050.6 2950.96L1050.6 2956.96L1050.6 2962.96L1050.6 2968.96L1050.6 2974.96L1050.6 2980.96L1050.6 2986.96L1050.6 2992.96L1050.6 2998.96L1050.6 3004.96L1050.6 3010.96L1050.6 3016.96L1050.6 3022.96L1050.6 3028.96L1050.6 3034.96L1050.6 3040.96L1050.6 3046.96L1050.6 3052.96L1050.6 3058.96L1050.6 3064.96L1050.6 3070.96L1050.6 3076.96L1050.6 3082.96L1050.6 3088.96L1050.6 3094.96L1050.6 3100.96L1050.6 3106.96L1050.6 3112.96L1050.6 3118.96L1050.6 3124.96L1050.6 3130.96L1050.6 3136.96L1050.6 3142.96L1050.6 3148.96L1050.6 3154.96L1050.6 3160.9" stroke="#0000ff" stroke-width="5.6" stroke-dasharray="14.6 2.4 8 2.4" stroke-dashoffset="22.1"/>
<path class="c" d="M272 2448.5L278 2448.5L284 2448.5L290 2448.5L296 2448.5L302 2448.5L308 2448.5L314 2448.5L320 2448.5L326 2448.5L332 2448.5L338 2448.5L344 2448.5L350 2448.5L356 2448.5L362 2448.5L368 2448.5L374 2448.5L380 2448.5L386 2448.5L392 2448.5L398 2448.5L404 2448.5L410 2448.5L416 2448.5L422 2448.5L428 2448.5L434 2448.5L440 2448.5L446 2448.5L452 2448.5L458 2448.5L464 2448.5L470 2448.5L476 2448.5L482 2448.5L488 2448.5L494 2448.5L500 2448.5L506 2448.5L512 2448.5L518 2448.5L524 2448.5L530 2448.5L536 2448.5L542 2448.5L548 2448.51L554 2448.51L560 2448.51L566 2448.51L572 2448.51L578 2448.51L584 2448.51L590 2448.51L596 2448.51L602 2448.52L608 2448.52L614 2448.52L620 2448.52L626 2448.53L632 2448.53L638 2448.53L644 2448.54L650 2448.54L656 2448.55L662 2448.56L668 2448.56L674 2448.57L680 2448.58L686 2448.59L692 2448.61L698 2448.62L704 2448.64L710 2448.65L716 2448.67L722 2448.7L728 2448.72L734 2448.75L740 2448.79L746 2448.83L752 2448.87L758 2448.92L764 2448.97L770 2449.04L776 2449.11L782 2449.19L788 2449.28L794 2449.39L800 2449.51L806 2449.64L812 2449.8L818 2449.97L824 2450.17L830 2450.4L836 2450.66L842 2450.95L843 2451L844 2451.06L845 2451.11L846 2451.17L847 2451.23L848 2451.28L849 2451.35L850 2451.41L851 2451.47L852 2451.53L853 2451.6L854 2451.67L855 2451.74L856 2451.81L857 2451.88L858 2451.95L859 2452.03L860 2452.1L861 2452.18L862 2452.26L863 2452.35L864 2452.43L865 2452.52L866 2452.6L867 2452.69L868 2452.79L869 2452.88L870 2452.98L871 2453.07L872 2453.18L873 2453.28L874 2453.38L875 2453.49L876 2453.6L877 2453.72L878 2453.83L879 2453.95L880 2454.07L881 2454.2L882 2454.32L883 2454.45L884 2454.59L885 2454.72L886 2454.86L887 2455.01L888 2455.15L889 2455.3L890 2455.46L891 2455.61L892 2455.77L893 2455.94L894 2456.11L895 2456.28L896 2456.46L897 2456.64L898 2456.83L899 2457.02L900 2457.22L901 2457.42L902 2457.62L903 2457.84L904 2458.05L905 2458.27L906 2458.5L907 2458.74L908 2458.98L909 2459.22L910 2459.48L911 2459.74L912 2460L913 2460.28L914 2460.56L915 2460.85L916 2461.14L917 2461.45L918 2461.76L919 2462.08L920 2462.41L921 2462.75L922 2463.1L923 2463.46L924 2463.83L925 2464.21L926 2464.6L927 2465.01L928 2465.42L929 2465.85L930 2466.29L931 2466.74L932 2467.21L933 2467.69L934 2468.19L935 2468.71L936 2469.24L937 2469.78L938 2470.35L939 2470.93L940 2471.54L941 2472.16L942 2472.81L943 2473.48L944 2474.17L945 2474.89L946 2475.63L947 2476.4L948 2477.2L949 2478.03L950 2478.9L951 2479.8L952 2480.73L953 2481.71L954 2482.72L954.95 2483.72L955.85 2484.72L956.73 2485.72L957.57 2486.72L958.38 2487.72L959.16 2488.72L959.91 2489.72L960.63 2490.72L961.33 2491.72L962.01 2492.72L962.66 2493.72L963.29 2494.72L963.9 2495.72L964.49 2496.72L965.06 2497.72L965.61 2498.72L966.15 2499.72L966.67 2500.72L967.17 2501.72L967.66 2502.72L968.13 2503.72L968.59 2504.72L969.03 2505.72L969.46 2506.72L969.88 2507.72L970.29 2508.72L970.68 2509.72L971.07 2510.72L971.44 2511.72L971.8 2512.72L972.15 2513.72L972.5 2514.72L972.83 2515.72L973.15 2516.72L973.47 2517.72L973.78 2518.72L974.07 2519.72L974.36 2520.72L974.65 2521.72L974.92 2522.72L975.19 2523.72L975.45 2524.72L975.71 2525.72L975.96 2526.72L976.2 2527.72L976.43 2528.72L976.66 2529.72L976.89 2530.72L977.11 2531.72L977.32 2532.72L977.53 2533.72L977.73 2534.72L977.93 2535.72L978.12 2536.72L978.31 2537.72L978.49 2538.72L978.67 2539.72L978.84 2540.72L979.01 2541.72L979.18 2542.72L979.34 2543.72L979.5 2544.72L979.66 2545.72L979.81 2546.72L979.95 2547.72L980.1 2548.72L980.24 2549.72L980.38 2550.72L980.51 2551.72L980.64 2552.72L980.77 2553.72L980.89 2554.72L981.02 2555.72L981.14 2556.72L981.25 2557.72L981.37 2558.72L981.48 2559.72L981.59 2560.72L981.69 2561.72L981.8 2562.72L981.9 2563.72L982 2564.72L982.09 2565.72L982.19 2566.72L982.28 2567.72L982.37 2568.72L982.46 2569.72L982.55 2570.72L982.63 2571.72L982.72 2572.72L982.8 2573.72L982.88 2574.72L982.95 2575.72L983.03 2576.72L983.1 2577.72L983.17 2578.72L983.25 2579.72L983.31 2580.72L983.38 2581.72L983.45 2582.72L983.51 2583.72L983.58 2584.72L983.64 2585.72L983.7 2586.72L983.76 2587.72L983.82 2588.72L983.87 2589.72L983.93 2590.72L983.98 2591.72L984.04 2592.72L984.09 2593.72L984.14 2594.72L984.19 2595.72L984.24 2596.72L984.29 2597.72L984.33 2598.72L984.59 2604.72L984.82 2610.72L985.02 2616.72L985.19 2622.72L985.35 2628.72L985.49 2634.72L985.61 2640.72L985.71 2646.72L985.8 2652.72L985.89 2658.72L985.96 2664.72L986.02 2670.72L986.08 2676.72L986.13 2682.72L986.17 2688.72L986.21 2694.72L986.24 2700.72L986.27 2706.72L986.3 2712.72L986.32 2718.72L986.35 2724.72L986.36 2730.72L986.38 2736.72L986.39 2742.72L986.41 2748.72L986.42 2754.72L986.43 2760.72L986.44 2766.72L986.44 2772.72L986.45 2778.72L986.46 2784.72L986.46 2790.72L986.47 2796.72L986.47 2802.72L986.47 2808.72L986.48 2814.72L986.48 2820.72L986.48 2826.72L986.48 2832.72L986.49 2838.72L986.49 2844.72L986.49 2850.72L986.49 2856.72L986.49 2862.72L986.49 2868.72L986.49 2874.72L986.49 2880.72L986.49 2886.72L986.5 2892.72L986.5 2898.72L986.5 2904.72L986.5 2910.72L986.5 2916.72L986.5 2922.72L986.5 2928.72L986.5 2934.72L986.5 2940.72L986.5 2946.72L986.5 2952.72L986.5 2958.72L986.5 2964.72L986.5 2970.72L986.5 2976.72L986.5 2982.72L986.5 2988.72L986.5 2994.72L986.5 3000.72L986.5 3006.72L986.5 3012.72L986.5 3018.72L986.5 3024.72L986.5 3030.72L986.5 3036.72L986.5 3042.72L986.5 3048.72L986.5 3054.72L986.5 3060.72L986.5 3066.72L986.5 3072.72L986.5 3078.72L986.5 3084.72L986.5 3090.72L986.5 3096.72L986.5 3102.72L986.5 3108.72L986.5 3114.72L986.5 3120.72L986.5 3126.72L986.5 3132.72L986.5 3138.72L986.5 3144.72L986.5 3150.72L986.5 3156.72L986.5 3160.9" stroke="#ff00ff" stroke-width="5.6" stroke-dasharray="4.3 2.55" stroke-dashoffset="0"/>
<path class="c" d="M272 2512.5L278 2512.5L284 2512.5L290 2512.5L296 2512.5L302 2512.5L308 2512.5L314 2512.5L320 2512.5L326 2512.5L332 2512.5L338 2512.5L344 2512.5L350 2512.5L356 2512.5L362 2512.5L368 2512.5L374 2512.5L380 2512.5L386 2512.5L392 2512.5L398 2512.5L404 2512.5L410 2512.5L416 2512.5L422 2512.5L428 2512.5L434 2512.5L440 2512.5L446 2512.5L452 2512.5L458 2512.5L464 2512.5L470 2512.5L476 2512.5L482 2512.5L488 2512.5L494 2512.51L500 2512.51L506 2512.51L512 2512.51L518 2512.51L524 2512.51L530 2512.51L536 2512.51L542 2512.51L548 2512.52L554 2512.52L560 2512.52L566 2512.52L572 2512.53L578 2512.53L584 2512.54L590 2512.54L596 2512.55L602 2512.55L608 2512.56L614 2512.57L620 2512.58L626 2512.59L632 2512.6L638 2512.61L644 2512.63L650 2512.64L656 2512.66L662 2512.69L668 2512.71L674 2512.74L680 2512.77L686 2512.81L692 2512.85L698 2512.9L704 2512.96L710 2513.02L716 2513.09L722 2513.17L728 2513.26L734 2513.37L740 2513.49L746 2513.63L752 2513.78L758 2513.96L764 2514.16L770 2514.39L776 2514.66L777 2514.71L778 2514.75L779 2514.8L780 2514.85L781 2514.91L782 2514.96L783 2515.01L784 2515.07L785 2515.13L786 2515.19L787 2515.24L788 2515.31L789 2515.37L790 2515.43L791 2515.5L792 2515.56L793 2515.63L794 2515.7L795 2515.77L796 2515.85L797 2515.92L798 2516L799 2516.08L800 2516.16L801 2516.24L802 2516.32L803 2516.41L804 2516.5L805 2516.59L806 2516.68L807 2516.77L808 2516.87L809 2516.97L810 2517.07L811 2517.17L812 2517.28L813 2517.39L814 2517.5L815 2517.61L816 2517.73L817 2517.85L818 2517.97L819 2518.09L820 2518.22L821 2518.35L822 2518.49L823 2518.63L824 2518.77L825 2518.91L826 2519.06L827 2519.21L828 2519.37L829 2519.53L830 2519.69L831 2519.86L832 2520.03L833 2520.21L834 2520.39L835 2520.57L836 2520.76L837 2520.96L838 2521.16L839 2521.37L840 2521.58L841 2521.79L842 2522.01L843 2522.24L844 2522.48L845 2522.72L846 2522.96L847 2523.22L848 2523.48L849 2523.74L850 2524.02L851 2524.3L852 2524.59L853 2524.89L854 2525.2L855 2525.51L856 2525.83L857 2526.17L858 2526.51L859 2526.86L860 2527.23L861 2527.6L862 2527.99L863 2528.39L864 2528.79L865 2529.22L866 2529.65L867 2530.1L868 2530.56L869 2531.04L870 2531.53L871 2532.04L872 2532.57L873 2533.11L874 2533.67L875 2534.25L876 2534.85L877 2535.47L878 2536.11L879 2536.78L880 2537.47L881 2538.19L882 2538.93L883 2539.7L884 2540.5L885 2541.33L886 2542.2L887 2543.1L888 2544.04L889 2545.02L890 2546.04L890.94 2547.04L891.84 2548.04L892.7 2549.04L893.53 2550.04L894.33 2551.04L895.1 2552.04L895.85 2553.04L896.56 2554.04L897.25 2555.04L897.92 2556.04L898.56 2557.04L899.18 2558.04L899.78 2559.04L900.36 2560.04L900.92 2561.04L901.46 2562.04L901.98 2563.04L902.49 2564.04L902.98 2565.04L903.46 2566.04L903.92 2567.04L904.37 2568.04L904.8 2569.04L905.22 2570.04L905.63 2571.04L906.03 2572.04L906.41 2573.04L906.79 2574.04L907.15 2575.04L907.5 2576.04L907.85 2577.04L908.18 2578.04L908.5 2579.04L908.82 2580.04L909.13 2581.04L909.42 2582.04L909.71 2583.04L909.99 2584.04L910.27 2585.04L910.54 2586.04L910.8 2587.04L911.05 2588.04L911.3 2589.04L911.53 2590.04L911.77 2591.04L912 2592.04L912.22 2593.04L912.43 2594.04L912.64 2595.04L912.85 2596.04L913.05 2597.04L913.24 2598.04L913.43 2599.04L913.62 2600.04L913.8 2601.04L913.98 2602.04L914.15 2603.04L914.32 2604.04L914.48 2605.04L914.64 2606.04L914.79 2607.04L914.95 2608.04L915.09 2609.04L915.24 2610.04L915.38 2611.04L915.52 2612.04L915.65 2613.04L915.78 2614.04L915.91 2615.04L916.04 2616.04L916.16 2617.04L916.28 2618.04L916.39 2619.04L916.51 2620.04L916.62 2621.04L916.73 2622.04L916.83 2623.04L916.94 2624.04L917.04 2625.04L917.14 2626.04L917.23 2627.04L917.33 2628.04L917.42 2629.04L917.51 2630.04L917.6 2631.04L917.68 2632.04L917.77 2633.04L917.85 2634.04L917.93 2635.04L918.01 2636.04L918.08 2637.04L918.16 2638.04L918.23 2639.04L918.3 2640.04L918.37 2641.04L918.44 2642.04L918.51 2643.04L918.57 2644.04L918.64 2645.04L918.7 2646.04L918.76 2647.04L918.82 2648.04L918.88 2649.04L918.93 2650.04L918.99 2651.04L919.04 2652.04L919.1 2653.04L919.15 2654.04L919.2 2655.04L919.25 2656.04L919.3 2657.04L919.35 2658.04L919.39 2659.04L919.44 2660.04L919.48 2661.04L919.53 2662.04L919.57 2663.04L919.8 2669.04L920.01 2675.04L920.19 2681.04L920.35 2687.04L920.49 2693.04L920.61 2699.04L920.72 2705.04L920.81 2711.04L920.9 2717.04L920.97 2723.04L921.03 2729.04L921.09 2735.04L921.14 2741.04L921.18 2747.04L921.22 2753.04L921.25 2759.04L921.28 2765.04L921.31 2771.04L921.33 2777.04L921.35 2783.04L921.37 2789.04L921.39 2795.04L921.4 2801.04L921.41 2807.04L921.42 2813.04L921.43 2819.04L921.44 2825.04L921.45 2831.04L921.45 2837.04L921.46 2843.04L921.46 2849.04L921.47 2855.04L921.47 2861.04L921.48 2867.04L921.48 2873.04L921.48 2879.04L921.48 2885.04L921.49 2891.04L921.49 2897.04L921.49 2903.04L921.49 2909.04L921.49 2915.04L921.49 2921.04L921.49 2927.04L921.49 2933.04L921.49 2939.04L921.5 2945.04L921.5 2951.04L921.5 2957.04L921.5 2963.04L921.5 2969.04L921.5 2975.04L921.5 2981.04L921.5 2987.04L921.5 2993.04L921.5 2999.04L921.5 3005.04L921.5 3011.04L921.5 3017.04L921.5 3023.04L921.5 3029.04L921.5 3035.04L921.5 3041.04L921.5 3047.04L921.5 3053.04L921.5 3059.04L921.5 3065.04L921.5 3071.04L921.5 3077.04L921.5 3083.04L921.5 3089.04L921.5 3095.04L921.5 3101.04L921.5 3107.04L921.5 3113.04L921.5 3119.04L921.5 3125.04L921.5 3131.04L921.5 3137.04L921.5 3143.04L921.5 3149.04L921.5 3155.04L921.5 3160.9" stroke="#ff0000" stroke-width="5.6" stroke-dasharray="15 12.5" stroke-dashoffset="1.9"/>
<rect x="271" y="1879" width="1283.1" height="1282.9" fill="none" stroke="#141414" stroke-width="2"/>
<path class="c" d="M335 3161.9v-6.9M335 1879v7.9M271 3098h6.9M1554.1 3098h-7.9M373 3161.9v-6.9M373 1879v7.9M271 3060h6.9M1554.1 3060h-7.9M400 3161.9v-6.9M400 1879v7.9M271 3033h6.9M1554.1 3033h-7.9M420 3161.9v-6.9M420 1879v7.9M271 3012h6.9M1554.1 3012h-7.9M437 3161.9v-6.9M437 1879v7.9M271 2996h6.9M1554.1 2996h-7.9M452 3161.9v-6.9M452 1879v7.9M271 2981h6.9M1554.1 2981h-7.9M464 3161.9v-6.9M464 1879v7.9M271 2969h6.9M1554.1 2969h-7.9M475 3161.9v-6.9M475 1879v7.9M271 2958h6.9M1554.1 2958h-7.9M485 3161.9v-6.9M485 1879v7.9M271 2948h6.9M1554.1 2948h-7.9M549 3161.9v-6.9M549 1879v7.9M271 2884h6.9M1554.1 2884h-7.9M587 3161.9v-6.9M587 1879v7.9M271 2846h6.9M1554.1 2846h-7.9M614 3161.9v-6.9M614 1879v7.9M271 2819h6.9M1554.1 2819h-7.9M634 3161.9v-6.9M634 1879v7.9M271 2799h6.9M1554.1 2799h-7.9M651 3161.9v-6.9M651 1879v7.9M271 2782h6.9M1554.1 2782h-7.9M666 3161.9v-6.9M666 1879v7.9M271 2767h6.9M1554.1 2767h-7.9M678 3161.9v-6.9M678 1879v7.9M271 2755h6.9M1554.1 2755h-7.9M689 3161.9v-6.9M689 1879v7.9M271 2744h6.9M1554.1 2744h-7.9M763 3161.9v-6.9M763 1879v7.9M271 2670h6.9M1554.1 2670h-7.9M801 3161.9v-6.9M801 1879v7.9M271 2632h6.9M1554.1 2632h-7.9M827 3161.9v-6.9M827 1879v7.9M271 2606h6.9M1554.1 2606h-7.9M848 3161.9v-6.9M848 1879v7.9M271 2585h6.9M1554.1 2585h-7.9M865 3161.9v-6.9M865 1879v7.9M271 2568h6.9M1554.1 2568h-7.9M879 3161.9v-6.9M879 1879v7.9M271 2554h6.9M1554.1 2554h-7.9M892 3161.9v-6.9M892 1879v7.9M271 2541h6.9M1554.1 2541h-7.9M903 3161.9v-6.9M903 1879v7.9M271 2530h6.9M1554.1 2530h-7.9M913 3161.9v-6.9M913 1879v7.9M271 2520h6.9M1554.1 2520h-7.9M977 3161.9v-6.9M977 1879v7.9M271 2456h6.9M1554.1 2456h-7.9M1015 3161.9v-6.9M1015 1879v7.9M271 2418h6.9M1554.1 2418h-7.9M1041 3161.9v-6.9M1041 1879v7.9M271 2392h6.9M1554.1 2392h-7.9M1062 3161.9v-6.9M1062 1879v7.9M271 2371h6.9M1554.1 2371h-7.9M1079 3161.9v-6.9M1079 1879v7.9M271 2354h6.9M1554.1 2354h-7.9M1093 3161.9v-6.9M1093 1879v7.9M271 2340h6.9M1554.1 2340h-7.9M1106 3161.9v-6.9M1106 1879v7.9M271 2327h6.9M1554.1 2327h-7.9M1117 3161.9v-6.9M1117 1879v7.9M271 2316h6.9M1554.1 2316h-7.9M1126 3161.9v-13.9M1126 1879v13.9M271 2307h13.9M1554.1 2307h-13.9M1191 3161.9v-6.9M1191 1879v7.9M271 2242h6.9M1554.1 2242h-7.9M1228 3161.9v-6.9M1228 1879v7.9M271 2205h6.9M1554.1 2205h-7.9M1255 3161.9v-6.9M1255 1879v7.9M271 2178h6.9M1554.1 2178h-7.9M1276 3161.9v-6.9M1276 1879v7.9M271 2157h6.9M1554.1 2157h-7.9M1293 3161.9v-6.9M1293 1879v7.9M271 2140h6.9M1554.1 2140h-7.9M1307 3161.9v-6.9M1307 1879v7.9M271 2126h6.9M1554.1 2126h-7.9M1320 3161.9v-6.9M1320 1879v7.9M271 2114h6.9M1554.1 2114h-7.9M1330 3161.9v-6.9M1330 1879v7.9M271 2103h6.9M1554.1 2103h-7.9M1340 3161.9v-6.9M1340 1879v7.9M271 2093h6.9M1554.1 2093h-7.9M1405 3161.9v-6.9M1405 1879v7.9M271 2028h6.9M1554.1 2028h-7.9M1442 3161.9v-6.9M1442 1879v7.9M271 1991h6.9M1554.1 1991h-7.9M1469 3161.9v-6.9M1469 1879v7.9M271 1964h6.9M1554.1 1964h-7.9M1490 3161.9v-6.9M1490 1879v7.9M271 1943h6.9M1554.1 1943h-7.9M1507 3161.9v-6.9M1507 1879v7.9M271 1926h6.9M1554.1 1926h-7.9M1521 3161.9v-6.9M1521 1879v7.9M271 1912h6.9M1554.1 1912h-7.9M1533 3161.9v-6.9M1533 1879v7.9M271 1900h6.9M1554.1 1900h-7.9M1544 3161.9v-6.9M1544 1879v7.9M271 1889h6.9M1554.1 1889h-7.9" stroke="#141414" stroke-width="2"/>
<path class="c" d="M698.5 3161.9v-13.9M698.5 1879v13.9M271 2734.5h13.9M1554.1 2734.5h-13.9" stroke="#141414" stroke-width="3"/>
<text class="t" transform="translate(146.25 1917) scale(0.9273 1)" font-size="71.5" x="0 39.06 80.9">10<tspan font-size="54" dy="-34.7" textLength="32.38" lengthAdjust="spacingAndGlyphs">0</tspan></text>
<text class="t" transform="translate(127.35 2344) scale(0.9273 1)" font-size="71.5" x="0 39.06 78.91 100.04">10<tspan font-size="54" dy="-33.67" textLength="21.53" lengthAdjust="spacingAndGlyphs">-</tspan><tspan font-size="54" dy="-1.1" textLength="32.38" lengthAdjust="spacingAndGlyphs">2</tspan></text>
<text class="t" transform="translate(127.35 2773) scale(0.9273 1)" font-size="71.5" x="0 39.06 78.91 100.04">10<tspan font-size="54" dy="-33.63" textLength="21.53" lengthAdjust="spacingAndGlyphs">-</tspan><tspan font-size="54" dy="-1.1" textLength="32.38" lengthAdjust="spacingAndGlyphs">4</tspan></text>
<text class="t" transform="translate(127.35 3200) scale(0.9273 1)" font-size="71.5" x="0 39.06 78.91 100.04">10<tspan font-size="54" dy="-34.4" textLength="21.53" lengthAdjust="spacingAndGlyphs">-</tspan><tspan font-size="54" dy="-1.1" textLength="32.38" lengthAdjust="spacingAndGlyphs">6</tspan></text>
<text class="t" transform="translate(69.9 2698) rotate(-90)" font-size="68.5"><tspan class="i" font-size="63" x="0.64" y="2" textLength="37.96" lengthAdjust="spacingAndGlyphs">η</tspan><tspan font-size="54.5" x="35.15" y="33.2" textLength="27.75" lengthAdjust="spacingAndGlyphs">s</tspan><tspan font-size="80" x="61.52" y="5.9" textLength="11.92" lengthAdjust="spacingAndGlyphs">'</tspan><tspan font-size="80" x="75.72" y="5.9" textLength="11.92" lengthAdjust="spacingAndGlyphs">'</tspan><tspan>  </tspan><tspan x="146.3" y="0">(<tspan font-size="72.2" textLength="49.46" lengthAdjust="spacingAndGlyphs">N</tspan>s/m)</tspan></text>
<text class="t" transform="translate(209.4 3272.2) scale(0.9273 1)" font-size="71.5" x="0 39.06 78.75 100.74">10<tspan font-size="54" dy="-34.75" textLength="21.53" lengthAdjust="spacingAndGlyphs">-</tspan><tspan font-size="54" dy="-1.1" textLength="32.38" lengthAdjust="spacingAndGlyphs">6</tspan></text>
<text class="t" transform="translate(637.1 3272.2) scale(0.9273 1)" font-size="71.5" x="0 39.06 78.75 100.74">10<tspan font-size="54" dy="-34.75" textLength="21.53" lengthAdjust="spacingAndGlyphs">-</tspan><tspan font-size="54" dy="-1.1" textLength="32.38" lengthAdjust="spacingAndGlyphs">4</tspan></text>
<text class="t" transform="translate(1065.6 3272.2) scale(0.9273 1)" font-size="71.5" x="0 39.06 78.75 100.74">10<tspan font-size="54" dy="-34.75" textLength="21.53" lengthAdjust="spacingAndGlyphs">-</tspan><tspan font-size="54" dy="-1.1" textLength="32.38" lengthAdjust="spacingAndGlyphs">2</tspan></text>
<text class="t" transform="translate(1501.45 3272.2) scale(0.9273 1)" font-size="71.5" x="0 39.06 80.79">10<tspan font-size="54" dy="-35.85" textLength="32.38" lengthAdjust="spacingAndGlyphs">0</tspan></text>
<text class="t" transform="translate(0 3358.9)" font-size="68.5"><tspan class="i" font-size="63" x="742.34" y="2" textLength="37.96" lengthAdjust="spacingAndGlyphs">η</tspan><tspan font-size="54.5" x="777.35" y="34.25" textLength="27.75" lengthAdjust="spacingAndGlyphs">s</tspan><tspan font-size="80" x="804.02" y="4.9" textLength="11.92" lengthAdjust="spacingAndGlyphs">'</tspan><tspan>  </tspan><tspan x="874.95" y="0">(<tspan font-size="72.2" textLength="49.46" lengthAdjust="spacingAndGlyphs">N</tspan>s/m)</tspan></text>
<rect class="c" x="360" y="1921" width="367" height="132" style="fill:#fff" stroke="#000" stroke-width="2"/>
<text class="a" transform="translate(400.74 1973.65) scale(0.9697 1)" font-size="47.2" x="-31.18 0 13.12 40.69 53.81 80.05 106.29 119.42 145.66 171.9 185.02 200.74 226.98 253.23 266.35"><tspan class="i" font-size="40.3" dy="1.05" textLength="31.82" lengthAdjust="spacingAndGlyphs">ω</tspan><tspan dy="-1.05"> = 62.83 rad/s</tspan></text>
<text class="a" transform="translate(372.15 2031.8) scale(0.9697 1)" font-size="47.2" x="0 34.08 60.32 73.44 101.01 116.86 140.37 166.62 192.86 219.1 248.08">Re = 100531</text>
<g class="m"><rect x="149.45" y="1910.11" width="13.12" height="8.24"/><rect x="169.13" y="1910.11" width="12.61" height="8.24"/><rect x="130.55" y="2337.11" width="13.12" height="8.24"/><rect x="150.23" y="2337.11" width="12.61" height="8.24"/><rect x="130.55" y="2766.11" width="13.12" height="8.24"/><rect x="150.23" y="2766.11" width="12.61" height="8.24"/><rect x="130.55" y="3193.11" width="13.12" height="8.24"/><rect x="150.23" y="3193.11" width="12.61" height="8.24"/><rect x="212.6" y="3265.31" width="13.12" height="8.24"/><rect x="232.28" y="3265.31" width="12.61" height="8.24"/><rect x="640.3" y="3265.31" width="13.12" height="8.24"/><rect x="659.98" y="3265.31" width="12.61" height="8.24"/><rect x="1068.8" y="3265.31" width="13.12" height="8.24"/><rect x="1088.48" y="3265.31" width="12.61" height="8.24"/><rect x="1504.65" y="3265.31" width="13.12" height="8.24"/><rect x="1524.33" y="3265.31" width="12.61" height="8.24"/><rect x="487.06" y="2026.67" width="9.52" height="6.53"/><rect x="501.42" y="2026.67" width="9.17" height="6.53"/><rect x="614.3" y="2026.67" width="9.52" height="6.53"/><rect x="628.67" y="2026.67" width="9.17" height="6.53"/></g>
</g>
</svg></body></html>
